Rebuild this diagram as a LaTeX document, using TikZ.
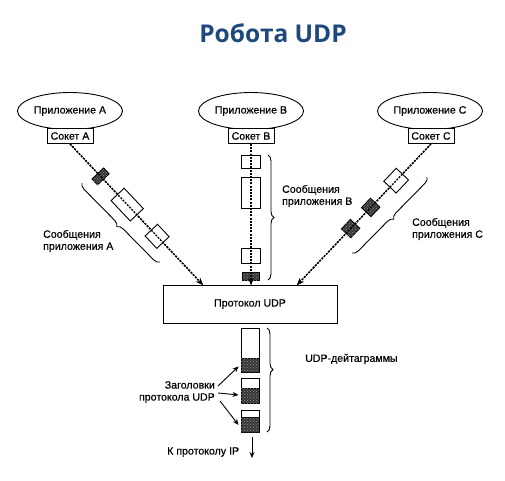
\documentclass[tikz,border=0pt]{standalone}
\usepackage{fontspec}
\setmainfont{Liberation Sans}
\newfontfamily\dfont[FakeBold=0.4]{Liberation Sans}
\newfontfamily\titlefont{Open Sans}
\usetikzlibrary{arrows.meta,decorations.pathreplacing,shapes.geometric,patterns}
\definecolor{titleblue}{RGB}{31,73,125}
\begin{document}
\begin{tikzpicture}[x=1pt,y=-1pt,
  txt/.style={font=\dfont\fontsize{10.6}{12}\selectfont, inner sep=0pt},
  lbl/.style={txt, align=left},
  app/.style={ellipse, draw, line width=0.9pt, minimum width=105pt, minimum height=37pt, inner sep=0pt, txt},
  sock/.style={draw, fill=white, line width=0.9pt, minimum width=46pt, minimum height=15pt, inner sep=0pt, txt},
  flow/.style={line width=1.3pt, dash pattern=on 2pt off 1.2pt, -{Stealth[length=7pt,width=5.5pt]}},
  pkt/.style={draw, fill=white, line width=0.9pt, inner sep=0pt, solid},
  hdr/.style={draw, fill=black!78, line width=0.9pt, inner sep=0pt, solid,
    postaction={pattern=crosshatch dots, pattern color=black!45}},
  brc/.style={decorate, decoration={brace, amplitude=6pt}, line width=0.9pt},
  solidarrow/.style={line width=0.9pt, -{Stealth[length=6pt,width=5pt]}},
]
\useasboundingbox (0,0) rectangle (505,480);
\fill[white] (0,0) rectangle (505,480);

% title
\node[font=\titlefont\bfseries\fontsize{24.5}{28}\selectfont, text=titleblue, inner sep=0pt] (title) at (273,33) {Робота UDP};

% applications and sockets
\node[app] (apA) at (70,111) {Приложение A};
\node[app] (apB) at (251,111) {Приложение B};
\node[app] (apC) at (430,111) {Приложение C};
\node[sock] (sA) at (70,136) {Сокет A};
\node[sock] (sB) at (251,136) {Сокет B};
\node[sock] (sC) at (431,136) {Сокет C};

% UDP box
\node[draw, line width=0.9pt, minimum width=174pt, minimum height=38pt, inner sep=0pt, txt] (udp) at (250,304) {Протокол UDP};
\coordinate (uA) at (203,285);
\coordinate (uB) at (251,285);
\coordinate (uC) at (297,285);

% flows with packets
\draw[flow] (sA.south) -- (uA)
  node[hdr, sloped, pos=0.23, minimum width=8pt, minimum height=16pt] (a1) {}
  node[pkt, sloped, pos=0.43, minimum width=28pt, minimum height=18pt] (a2) {}
  node[pkt, sloped, pos=0.655, minimum width=17pt, minimum height=17pt] (a3) {};
\draw[flow] (sA.south) -- (uA);

\draw[flow] (sB.south) -- (uB);
\node[pkt, minimum width=19pt, minimum height=13pt] (b1) at (250.5,161.5) {};
\node[pkt, minimum width=19pt, minimum height=31pt] (b2) at (250.5,192.5) {};
\node[pkt, minimum width=19pt, minimum height=15pt] (b3) at (250.5,255.5) {};
\node[hdr, minimum width=17pt, minimum height=8pt] (b4) at (250.5,276) {};
\draw[flow] (sB.south) -- (uB);

\draw[flow] (sC.south) -- (uC)
  node[pkt, sloped, pos=0.26, minimum width=18pt, minimum height=17pt] (c1) {}
  node[hdr, sloped, pos=0.45, minimum width=13pt, minimum height=13pt] (c2) {}
  node[hdr, sloped, pos=0.60, minimum width=13pt, minimum height=13pt] (c3) {};
\draw[flow] (sC.south) -- (uC);

% braces and labels
\draw[brc] (160,262) -- (82,183);
\node[lbl, anchor=west] (lA) at (43,241) {Сообщения\\приложения A};
\draw[brc] (268,155) -- (268,280);
\node[lbl, anchor=west] (lB) at (282,196) {Сообщения\\приложения B};
\draw[brc] (427,177) -- (352,253);
\node[lbl, anchor=west] (lC) at (412,229) {Сообщения\\приложения C};

% datagrams
\node[pkt, anchor=north, minimum width=18pt, minimum height=30pt] (d1) at (250,328) {};
\node[hdr, anchor=north, minimum width=18pt, minimum height=14pt] (d1h) at (250,358) {};
\node[pkt, anchor=north, minimum width=18pt, minimum height=10pt] (d2) at (250,378) {};
\node[hdr, anchor=north, minimum width=18pt, minimum height=15pt] (d2h) at (250,388) {};
\node[pkt, anchor=north, minimum width=18pt, minimum height=7pt] (d3) at (250,410) {};
\node[hdr, anchor=north, minimum width=18pt, minimum height=15pt] (d3h) at (250,417) {};
\draw[brc, decoration={aspect=0.4}] (267,328) -- (267,432);
\node[lbl, anchor=west] (ld) at (305,359) {UDP-дейтаграммы};

\node[txt, align=right, anchor=east] (hl) at (215,392) {Заголовки\\протокола UDP};
\coordinate (h1) at (218,386);
\coordinate (h2) at (218,393);
\coordinate (h3) at (220,401);
\draw[solidarrow] (h1) -- ([xshift=-2pt,yshift=-1pt]d1h.west);
\draw[solidarrow] (h2) -- ([xshift=-2pt,yshift=1pt]d2h.west);
\draw[solidarrow] (h3) -- ([xshift=-2pt]d3h.west);

\node[txt, anchor=west] (ip) at (167,452) {К протоколу IP};
\coordinate (ipS) at (252,437);
\coordinate (ipE) at (252,458);
\draw[solidarrow] (ipS) -- (ipE);
\end{tikzpicture}
\end{document}
